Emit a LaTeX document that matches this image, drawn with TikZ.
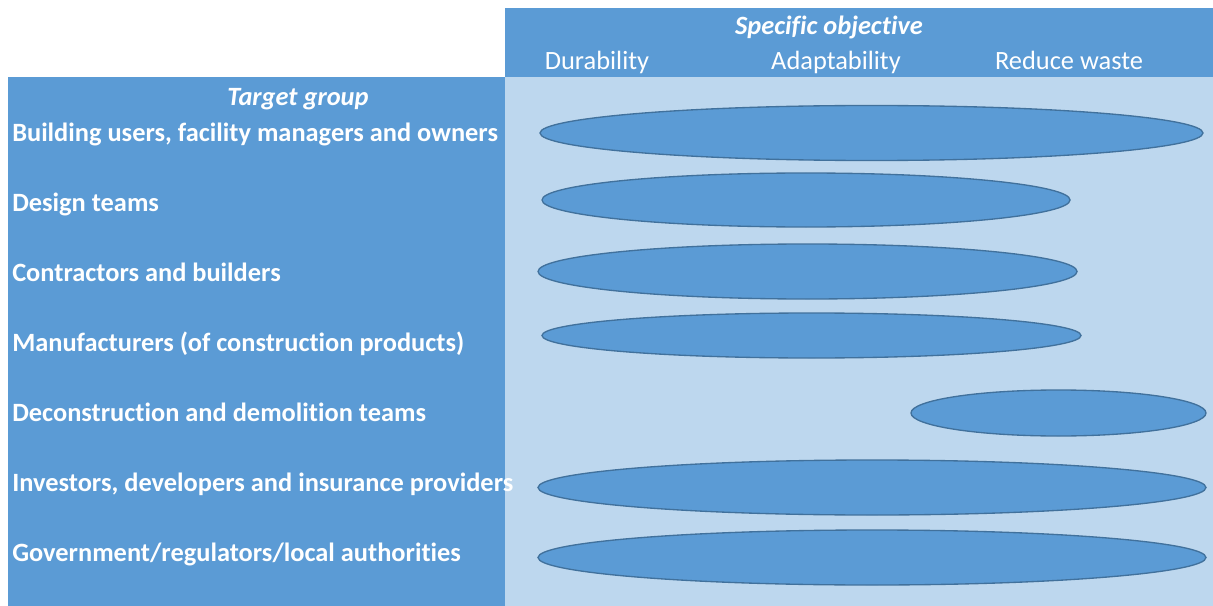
\documentclass[tikz,border=0pt]{standalone}
\usepackage{fontspec}
\setmainfont{Carlito}[Ligatures=NoCommon]
\usetikzlibrary{shapes.geometric}
\definecolor{midblue}{HTML}{5B9BD5}
\definecolor{lightblue}{HTML}{BDD7EE}
\definecolor{edgeblue}{HTML}{41719C}
\begin{document}
\begin{tikzpicture}[x=0.75pt,y=-0.75pt,
  lbl/.style={text=white,font=\fontsize{19.8}{23}\selectfont\bfseries,anchor=base west,inner sep=0pt},
  hdr/.style={text=white,font=\fontsize{19.8}{23}\selectfont,anchor=base,inner sep=0pt},
  ttl/.style={text=white,font=\fontsize{19.8}{23}\selectfont\bfseries\itshape,anchor=base,inner sep=0pt},
  oval/.style={ellipse,draw=edgeblue,fill=midblue,line width=1pt,inner sep=0pt}]
\useasboundingbox (0,0) rectangle (1213,606);
\fill[white] (0,0) rectangle (1213,606);
\fill[lightblue] (505,77) rectangle (1213,606);
\fill[midblue] (505,8) rectangle (1213,77);
\fill[midblue] (8,77) rectangle (505,606);
% header
\node[ttl] (so) at (829,34.5) {Specific objective};
\node[hdr] (du) at (597,70) {Durability};
\node[hdr] (ad) at (836,70) {Adaptability};
\node[hdr] (rw) at (1069,70) {Reduce waste};
% left labels
\node[ttl] (tg) at (298,106) {Target group};
\node[lbl] (g1) at (12,141.5) {Building users, facility managers and owners};
\node[lbl] (g2) at (12,211.5) {Design teams};
\node[lbl] (g3) at (12,281.5) {Contractors and builders};
\node[lbl] (g4) at (12,351.5) {Manufacturers (of construction products)};
\node[lbl] (g5) at (12,421.5) {Deconstruction and demolition teams};
\node[lbl] (g6) at (12,491.5) {Investors, developers and insurance providers};
\node[lbl] (g7) at (12,561.5) {Government/regulators/local authorities};
% ovals
\node[oval,minimum width=663*0.75pt,minimum height=55*0.75pt] (e1) at (871.5,133) {};
\node[oval,minimum width=528*0.75pt,minimum height=54*0.75pt] (e2) at (806,200) {};
\node[oval,minimum width=539*0.75pt,minimum height=55*0.75pt] (e3) at (807.5,271.5) {};
\node[oval,minimum width=539*0.75pt,minimum height=45*0.75pt] (e4) at (811.5,335.5) {};
\node[oval,minimum width=295*0.75pt,minimum height=46*0.75pt] (e5) at (1058.5,413) {};
\node[oval,minimum width=668*0.75pt,minimum height=55*0.75pt] (e6) at (872,487.5) {};
\node[oval,minimum width=668*0.75pt,minimum height=55*0.75pt] (e7) at (872,557.5) {};
\end{tikzpicture}
\end{document}
